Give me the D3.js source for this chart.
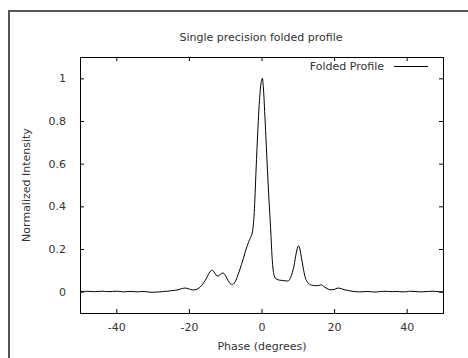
<!doctype html>
<html>
    <head>
        <meta charset="utf-8">
        <title>Single precision folded profile</title>
        <script src="https://d3js.org/d3.v7.min.js"></script>
        <style>
            body { margin: 0; background: #fff; }
            text { font-family: "DejaVu Sans", sans-serif; font-size: 11px; fill: #333; }
        </style>
    </head>

    <body>
        <script>
            // profile
            var phase = [-50, -49, -48, -47, -46, -45, -44, -43, -42, -41, -40, -39, -38, -37, -36, -35,
                -34, -33, -32, -31, -30, -29, -28, -27, -26, -25, -24, -23, -22, -21, -20, -19, -18, -17,
                -16, -15, -14.5, -14, -13.5, -13, -12.5, -12, -11.5, -11, -10.5, -10, -9.5, -9, -8.5, -8,
                -7.5, -7, -6.5, -6, -5.5, -5, -4.5, -4, -3.5, -3, -2.5, -2, -1.5, -1, -0.5, 0, 0.25, 0.5,
                1, 1.5, 2, 2.5, 3, 3.5, 4, 5, 6, 7, 7.5, 8, 8.5, 9, 9.5, 10, 10.25, 10.5, 11, 11.5, 12,
                12.5, 13, 14, 15, 16, 16.5, 17, 18, 19, 20, 21, 22, 23, 24, 25, 26, 27, 28, 29, 30, 31,
                32, 33, 34, 35, 36, 37, 38, 39, 40, 41, 42, 43, 44, 45, 46, 47, 48, 49, 50];
            var intensity = [0.002, 0.001, 0.002, 0.001, 0.000, 0.001, 0.002, 0.001, 0.000, 0.001, 0.002,
                0.001, -0.001, 0.000, 0.001, 0.000, -0.001, 0.001, 0.000, -0.002, -0.003, -0.002, -0.001,
                0.001, 0.002, 0.004, 0.006, 0.009, 0.014, 0.017, 0.013, 0.008, 0.010, 0.020,
                0.040, 0.068, 0.085, 0.097, 0.100, 0.090, 0.078, 0.073, 0.078, 0.086, 0.087, 0.078, 0.062,
                0.046, 0.036, 0.034, 0.040, 0.055, 0.078, 0.102, 0.128, 0.155, 0.185, 0.212, 0.235, 0.255,
                0.280, 0.37, 0.57, 0.76, 0.91, 0.99, 1.0, 0.96,
                0.80, 0.62, 0.45, 0.30, 0.14, 0.075, 0.060, 0.054, 0.052, 0.050, 0.052, 0.065, 0.090,
                0.125, 0.175, 0.210, 0.215, 0.205, 0.160, 0.110, 0.070,
                0.048, 0.038, 0.030, 0.028, 0.030, 0.032, 0.026, 0.015, 0.009, 0.010, 0.017, 0.014, 0.008,
                0.005, 0.002, 0.000, -0.001, 0.000, 0.001, 0.000, -0.002,
                -0.001, 0.001, 0.002, 0.001, 0.000, 0.001, 0.000, -0.001, 0.000, 0.002, 0.001, 0.000,
                -0.001, 0.000, 0.001, 0.002, 0.001, 0.000, -0.001];

            var xTicks = [-40, -20, 0, 20, 40];
            var yTicks = [0, 0.2, 0.4, 0.6, 0.8, 1];

            var width = 468;
            var height = 358;
            var m = { left: 80, right: 443, top: 57, bottom: 313 };

            var svg = d3.select("body")
                .append("svg")
                .attr("width", width)
                .attr("height", height)
                .style("display", "block");

            // outer frame (only top and left show in the window)
            svg.append("rect")
                .attr("x", 9)
                .attr("y", 11)
                .attr("width", 480)
                .attr("height", 380)
                .attr("fill", "none")
                .attr("stroke", "#555")
                .attr("stroke-width", 2);

            var x = d3.scaleLinear().domain([-50, 50]).range([m.left, m.right]);
            var y = d3.scaleLinear().domain([-0.1, 1.1]).range([m.bottom, m.top]);

            // gnuplot prints a plain hyphen for negatives
            var fmt = function (d) { return String(d); };

            // inward ticks, mirrored like gnuplot
            var tick = 4;
            svg.append("g")
                .attr("transform", "translate(0," + m.bottom + ")")
                .call(d3.axisBottom(x).tickValues(xTicks).tickSize(-tick).tickPadding(10).tickFormat(fmt));
            svg.append("g")
                .attr("transform", "translate(0," + m.top + ")")
                .call(d3.axisTop(x).tickValues(xTicks).tickSize(-tick).tickFormat(""));
            svg.append("g")
                .attr("transform", "translate(" + m.left + ",0)")
                .call(d3.axisLeft(y).tickValues(yTicks).tickSize(-tick).tickPadding(14).tickFormat(fmt));
            svg.append("g")
                .attr("transform", "translate(" + m.right + ",0)")
                .call(d3.axisRight(y).tickValues(yTicks).tickSize(-tick).tickFormat(""));

            svg.selectAll(".domain").remove();
            svg.selectAll(".tick line").attr("stroke", "#000");
            svg.selectAll(".tick text").attr("fill", "#333").style("font-size", "11px")
                .style("font-family", "DejaVu Sans, sans-serif");

            svg.append("rect")
                .attr("x", m.left + 0.5)
                .attr("y", m.top + 0.5)
                .attr("width", m.right - m.left)
                .attr("height", m.bottom - m.top)
                .attr("fill", "none")
                .attr("stroke", "#000");

            var pts = phase.map(function (p, i) { return [p, intensity[i]]; });
            var line = d3.line()
                .x(function (d) { return x(d[0]); })
                .y(function (d) { return y(d[1]); })
                .curve(d3.curveMonotoneX);

            svg.append("path")
                .datum(pts)
                .attr("d", line)
                .attr("fill", "none")
                .attr("stroke", "#000")
                .attr("stroke-width", 1);

            // titles
            svg.append("text")
                .attr("x", 261)
                .attr("y", 41)
                .attr("text-anchor", "middle")
                .text("Single precision folded profile");

            svg.append("text")
                .attr("x", 262)
                .attr("y", 350)
                .attr("text-anchor", "middle")
                .text("Phase (degrees)");

            svg.append("text")
                .attr("transform", "translate(30,185) rotate(-90)")
                .attr("text-anchor", "middle")
                .text("Normalized Intensity");

            // legend
            svg.append("text")
                .attr("x", 384)
                .attr("y", 70)
                .attr("text-anchor", "end")
                .text("Folded Profile");
            svg.append("line")
                .attr("x1", 394)
                .attr("x2", 428)
                .attr("y1", 66.5)
                .attr("y2", 66.5)
                .attr("stroke", "#000");
        </script>
    </body>
</html>
